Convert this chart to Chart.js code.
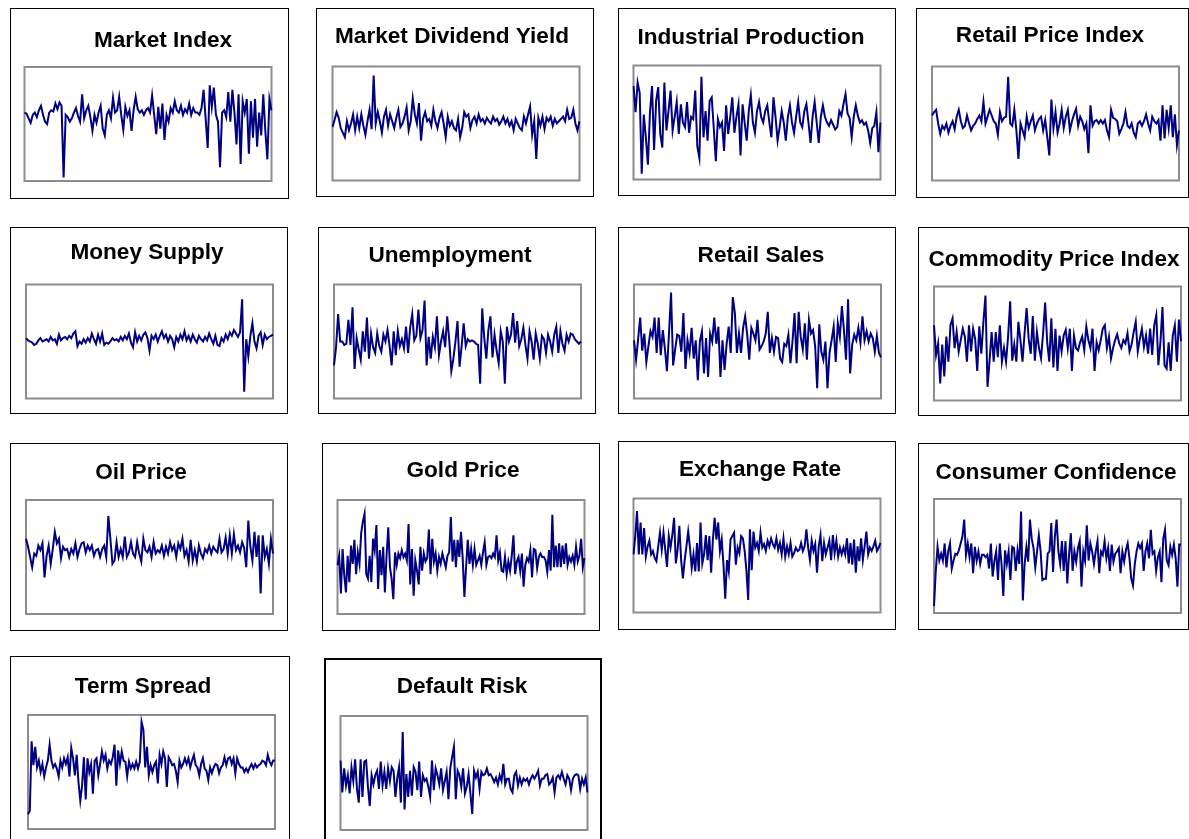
<!DOCTYPE html>
<html>
<head>
<meta charset="utf-8">
<script src="https://cdn.jsdelivr.net/npm/chart.js@4.4.1/dist/chart.umd.min.js"></script>
<style>
  html, body { margin: 0; padding: 0; background: #ffffff; }
  body { width: 1189px; height: 839px; overflow: hidden; position: relative; }
  canvas { position: absolute; }
</style>
</head>
<body>
<script>
// ---- Series values (relative level) ----
const marketIndex = [60,59,55,51,58,60,56,62,66,58, 52,50,60,62,61,68,63,69,66,3, 58,56,52,55,60,64,57,52,76,55, 62,66,56,44,58,51,60,66,46,40, 58,62,55,73,60,62,74,58,45,65, 57,62,44,62,74,63,60,62,58,62, 64,60,75,58,41,65,46,68,36,58, 52,64,60,70,62,60,66,58,63,60, 68,58,64,60,60,58,64,80,55,29, 84,65,82,58,52,12,60,62,56,78, 52,80,60,32,76,15,70,60,72,24, 70,38,72,30,60,40,76,44,19,72, 62];
const marketDividendYield = [47,53,60,55,46,42,38,52,44,50, 58,44,56,46,58,48,40,52,62,45, 92,50,60,52,42,56,62,48,58,52, 46,55,62,47,50,56,64,44,52,72, 58,50,68,35,54,60,52,54,48,62, 52,46,55,60,50,38,56,48,52,46, 44,54,38,46,60,56,58,46,53,56, 50,58,52,54,50,55,52,50,56,52, 54,49,52,56,50,54,48,52,44,54, 50,46,44,56,50,58,65,40,52,19, 55,48,56,45,55,52,56,48,54,50, 52,54,56,52,62,54,55,62,50,44, 52];
const industrialProduction = [82,59,85,76,5,57,37,13,59,82, 26,69,81,40,28,85,43,60,78,43, 55,68,40,66,50,46,68,41,55,53, 78,29,19,90,37,60,34,69,72,45, 16,53,46,50,25,65,40,55,72,41, 55,66,21,66,50,34,60,74,50,41, 60,68,55,50,60,65,50,37,72,55, 34,46,60,50,34,55,65,50,41,55, 68,50,46,60,66,50,32,55,68,50, 32,55,65,55,50,47,52,48,44,46, 60,56,66,75,58,54,37,55,65,56, 50,52,48,50,43,32,45,47,59,24, 50];
const retailPriceIndex = [57,60,62,50,41,48,45,50,42,48, 52,45,56,62,52,46,48,57,50,44, 48,50,54,57,52,69,50,56,62,57, 52,50,40,60,52,55,56,91,50,48, 62,44,19,50,44,38,56,46,52,57, 44,50,54,56,44,53,38,22,71,46, 60,42,50,62,46,56,62,44,52,58, 63,48,56,52,45,50,24,66,48,52, 53,50,53,50,53,44,38,62,55,54, 52,41,45,50,60,48,46,50,42,38, 50,52,48,52,58,50,44,56,52,50, 53,35,66,37,62,46,66,38,58,31, 44];
const moneySupply = [53,51,50,49,47,48,51,53,50,51, 52,50,54,51,52,48,56,51,53,54, 52,55,53,57,59,46,50,48,52,49, 53,50,57,52,48,56,50,57,47,49, 48,50,53,51,52,50,54,51,55,52, 57,49,45,58,50,55,51,56,58,53, 42,55,52,56,50,55,59,53,56,50, 55,52,45,54,50,56,52,59,51,55, 50,56,52,49,55,52,50,54,51,57, 52,48,55,47,46,53,50,56,52,58, 55,60,57,54,58,87,6,52,37,55, 66,50,44,55,58,47,56,52,54,55, 56];
const unemployment = [29,45,74,50,50,47,48,69,47,80, 26,53,43,34,59,41,71,35,57,45, 40,57,46,41,56,50,60,46,29,59, 38,59,46,52,44,63,40,62,74,51, 55,78,53,60,86,29,54,35,54,45, 72,38,50,59,45,72,51,24,35,50, 68,28,46,66,46,52,50,51,50,48, 47,13,79,53,35,60,72,36,56,42, 31,59,50,13,63,50,56,75,49,68, 46,52,62,47,35,59,50,34,57,48, 35,55,52,40,56,50,41,56,63,40, 59,48,42,56,50,57,56,52,50,48, 50];
const retailSales = [51,34,52,71,42,57,32,46,59,54, 71,40,71,38,60,44,24,57,93,29, 43,56,55,41,75,26,51,40,62,35, 51,16,50,59,22,53,19,57,50,71, 48,63,19,51,25,48,63,40,89,75, 40,57,40,62,72,56,34,62,57,51, 69,43,46,50,57,76,40,53,41,54, 53,35,32,48,46,56,31,50,75,31, 76,54,43,66,34,69,57,60,46,9, 65,41,34,50,9,40,51,63,32,66, 54,81,60,34,87,22,47,56,51,62, 49,72,51,59,50,57,53,41,55,40, 36];
const commodityPriceIndex = [66,40,50,15,49,21,56,34,66,72, 46,60,43,53,63,56,34,66,43,63, 54,26,65,41,69,92,12,35,60,34, 60,38,66,34,46,34,56,87,35,49, 34,69,53,34,59,81,54,41,74,35, 60,46,37,59,86,51,34,72,29,63, 26,57,43,57,62,46,63,26,57,46, 44,51,56,44,65,53,46,63,26,51, 44,53,63,66,46,56,37,46,53,58, 50,46,53,50,59,43,49,60,69,43, 54,63,47,57,41,63,40,66,75,31, 51,82,31,28,51,26,57,66,34,71, 52];
const oilPrice = [66,59,50,41,53,51,60,56,62,32, 51,60,44,57,72,62,66,49,59,56, 57,50,57,53,62,50,57,62,63,54, 60,56,60,51,56,57,50,57,60,50, 86,66,44,47,63,50,57,50,68,50, 54,63,53,50,63,53,46,66,56,54, 59,50,63,53,56,54,60,51,59,53, 63,56,60,50,62,57,66,51,56,46, 65,47,56,46,60,53,49,57,54,60, 53,59,56,54,66,54,57,67,53,69, 53,70,56,60,54,63,58,41,82,59, 47,72,50,69,18,69,50,57,44,66, 53];
const goldPrice = [43,51,18,57,34,19,51,28,60,44, 65,35,54,44,71,81,88,35,31,51, 28,66,56,78,22,56,34,59,19,51, 76,41,31,13,54,43,53,49,56,50, 53,47,79,26,57,16,47,38,26,59, 38,53,46,49,74,35,66,46,53,38, 50,44,53,47,41,51,54,85,46,65, 41,65,50,72,49,15,41,65,44,57, 43,57,43,47,51,43,54,63,43,50, 51,49,53,50,69,47,54,38,37,50, 35,46,38,51,69,35,46,50,38,53, 24,43,49,46,56,32,57,56,40,50, 53,50,50,47,37,56,38,87,41,60, 41,62,41,60,44,62,43,50,46,51, 43,59,46,51,66,41,49];
const exchangeRate = [51,67,89,51,79,51,74,49,58,63, 51,54,48,45,58,70,55,70,55,40, 67,57,68,83,43,55,76,46,30,46, 58,71,57,39,51,36,61,36,79,43, 51,68,46,67,35,64,83,64,79,54, 64,42,12,46,36,64,67,70,42,57, 52,67,65,54,37,11,73,37,71,57, 61,54,70,57,60,54,63,58,65,60, 57,65,55,61,51,65,49,58,51,61, 49,52,57,54,55,61,54,58,73,57, 46,63,54,60,35,58,68,45,61,51, 57,63,46,68,52,63,49,57,51,57, 51,65,43,61,42,64,35,58,45,65, 46,58,71,51,57,54,58,63,54,57, 61];
const consumerConfidence = [6,37,58,46,52,46,61,40,54,61, 39,46,52,51,55,61,67,82,51,61, 49,61,35,58,46,54,43,51,51,49, 51,39,61,32,46,54,29,61,43,15, 55,43,54,29,58,57,37,55,43,89, 11,43,58,45,82,65,57,40,54,68, 54,29,30,30,52,54,79,36,67,82, 54,43,63,37,63,26,51,70,37,54, 45,57,63,23,54,46,77,46,61,54, 43,54,63,35,54,51,63,48,57,37, 60,45,52,54,57,35,54,45,55,61, 48,30,24,43,54,61,57,61,37,54, 61,48,73,52,54,37,49,54,27,65, 73,46,42,58,51,60,48,23,60,60];
const termSpread = [13,16,77,56,72,54,60,50,57,46, 54,60,74,60,54,57,53,46,60,54, 62,57,63,46,71,62,47,65,41,25, 38,63,26,62,50,57,31,60,62,47, 57,68,60,65,53,60,57,63,74,38, 69,57,68,60,59,46,59,53,57,53, 59,53,59,94,87,54,72,47,56,50, 56,59,40,65,57,68,62,37,63,60, 56,57,51,41,60,54,57,62,57,62, 54,60,65,56,54,47,57,62,53,51, 43,54,49,54,57,56,49,54,56,63, 56,62,63,57,62,49,62,57,54,54, 50,53,50,54,57,53,57,54,56,57, 60,59,56,65,59,56,60,60];
const defaultRisk = [61,33,54,39,48,32,55,43,62,36, 24,62,29,60,61,38,21,48,40,48, 52,36,60,39,51,36,54,43,55,52, 29,45,55,24,86,18,49,29,52,30, 55,51,35,60,29,48,43,45,38,29, 61,35,54,48,40,54,35,43,51,27, 54,64,73,27,52,48,38,54,32,38, 49,32,14,52,46,51,36,51,48,49, 54,48,49,46,42,46,40,48,43,58, 40,45,45,36,33,48,51,39,46,40, 45,43,45,40,45,48,45,48,52,39, 45,45,48,49,40,42,46,33,46,48, 45,51,45,40,48,45,35,45,48,49, 48,36,45,40,46,33];

const panelTitles = ["Market Index", "Market Dividend Yield", "Industrial Production", "Retail Price Index",
  "Money Supply", "Unemployment", "Retail Sales", "Commodity Price Index",
  "Oil Price", "Gold Price", "Exchange Rate", "Consumer Confidence",
  "Term Spread", "Default Risk"];
const panelSeries = [marketIndex, marketDividendYield, industrialProduction, retailPriceIndex,
  moneySupply, unemployment, retailSales, commodityPriceIndex,
  oilPrice, goldPrice, exchangeRate, consumerConfidence,
  termSpread, defaultRisk];

// ---- Layout (page pixels) ----
// frame: [left, top, right, bottom] of black box; plot: [left, top] of grey plot frame; title: [centerX, centerY]
const layout = [
  { frame: [10, 8, 288, 198],   plot: [24.5, 67],   title: [163, 41],  fw: 1 },
  { frame: [316, 8, 593, 196],  plot: [332.5, 66.5], title: [452, 37], fw: 1 },
  { frame: [618, 8, 895, 195],  plot: [633.5, 65.5], title: [751, 38], fw: 1 },
  { frame: [916, 8, 1188, 197], plot: [932, 66.5],  title: [1050, 36], fw: 1 },
  { frame: [10, 227, 287, 413], plot: [26, 284.5],  title: [147, 253], fw: 1 },
  { frame: [318, 227, 595, 413], plot: [334, 284.5], title: [450, 256], fw: 1 },
  { frame: [618, 227, 895, 413], plot: [634, 284.5], title: [761, 256], fw: 1 },
  { frame: [918, 227, 1188, 415], plot: [934, 286.5], title: [1054, 260], fw: 1 },
  { frame: [10, 443, 287, 630], plot: [26, 500],    title: [141, 473], fw: 1 },
  { frame: [322, 443, 599, 630], plot: [337.5, 500], title: [463, 471], fw: 1 },
  { frame: [618, 441, 895, 629], plot: [633.5, 498.5], title: [760, 470], fw: 1 },
  { frame: [918, 443, 1188, 629], plot: [934, 499], title: [1056, 473], fw: 1 },
  { frame: [10, 656, 289, 845], plot: [28, 715],    title: [143, 687], fw: 1 },
  { frame: [324, 658, 601, 845], plot: [340.5, 716], title: [462, 687], fw: 2 }
];
const PLOT_W = 247, PLOT_H = 114;

const panelDecor = {
  id: 'panelDecor',
  beforeDatasetsDraw(chart, args, opts) {
    const { ctx, chartArea: a } = chart;
    ctx.save();
    ctx.strokeStyle = '#8c8c8c';
    ctx.lineWidth = 2;
    ctx.strokeRect(a.left, a.top, a.right - a.left, a.bottom - a.top);
    ctx.restore();
  },
  afterDraw(chart, args, opts) {
    const { ctx } = chart;
    ctx.save();
    ctx.strokeStyle = '#000000';
    ctx.lineWidth = opts.fw;
    ctx.strokeRect(opts.fw / 2, opts.fw / 2, chart.width - opts.fw, chart.height - opts.fw);
    ctx.fillStyle = '#000000';
    ctx.font = 'bold 22.6px "Liberation Sans", Arial, sans-serif';
    ctx.textAlign = 'center';
    ctx.textBaseline = 'middle';
    ctx.fillText(opts.text, opts.tx, opts.ty);
    ctx.restore();
  }
};

panelSeries.forEach((series, k) => {
  const L = layout[k];
  const [fl, ft, fr, fb] = L.frame;
  const w = fr - fl + 1, h = fb - ft + 1;
  const cv = document.createElement('canvas');
  cv.width = w; cv.height = h;
  cv.style.left = fl + 'px'; cv.style.top = ft + 'px';
  cv.style.width = w + 'px'; cv.style.height = h + 'px';
  document.body.appendChild(cv);
  const pl = L.plot[0] - fl, pt = L.plot[1] - ft;
  new Chart(cv.getContext('2d'), {
    type: 'line',
    data: {
      labels: series.map((_, i) => i + 1),
      datasets: [{
        data: series,
        borderColor: '#000080',
        borderWidth: 2,
        pointRadius: 0,
        tension: 0,
        fill: false
      }]
    },
    options: {
      responsive: false,
      animation: false,
      devicePixelRatio: 1,
      layout: { padding: { left: pl, top: pt, right: w - pl - PLOT_W, bottom: h - pt - PLOT_H } },
      scales: {
        x: { display: false, offset: false },
        y: { display: false, min: 0, max: 100 }
      },
      plugins: {
        legend: { display: false },
        tooltip: { enabled: false },
        title: { display: false },
        panelDecor: { text: panelTitles[k], tx: L.title[0] - fl, ty: L.title[1] - ft, fw: L.fw }
      }
    },
    plugins: [panelDecor]
  });
});
</script>
</body>
</html>
